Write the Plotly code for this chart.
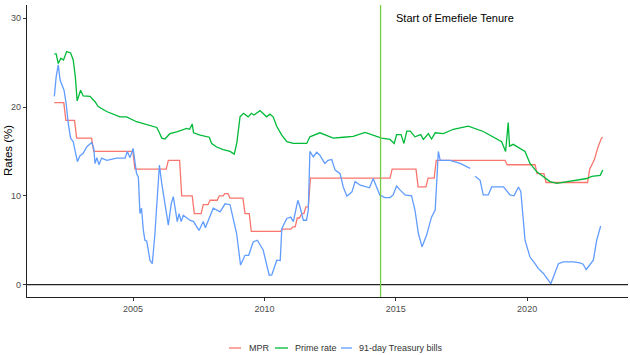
import plotly.graph_objects as go

# ---------------- data ----------------
mpr_t = [2002.0, 2002.36, 2002.44, 2002.77, 2002.85, 2003.42, 2003.5, 2004.99, 2005.07,
         2006.26, 2006.34, 2006.77, 2006.85, 2007.25, 2007.33, 2007.59, 2007.67, 2007.85,
         2007.93, 2008.2, 2008.28, 2008.42, 2008.5, 2008.61, 2008.69, 2009.18, 2009.26,
         2009.42, 2009.5, 2010.62, 2010.7, 2011.0, 2011.08, 2011.17, 2011.25, 2011.33,
         2011.42, 2011.5, 2011.58, 2011.67, 2011.75, 2014.78, 2014.86, 2015.77, 2015.85,
         2016.15, 2016.23, 2016.46, 2016.54, 2019.16, 2019.24, 2020.3, 2020.38, 2020.64,
         2020.72, 2022.3, 2022.38, 2022.55, 2022.7, 2022.83, 2022.88]
mpr_v = [20.5, 20.5, 18.5, 18.5, 16.5, 16.5, 15.0, 15.0, 13.0,
         13.0, 14.0, 14.0, 10.0, 10.0, 8.0, 8.0, 9.0, 9.0,
         9.5, 9.5, 10.0, 10.0, 10.25, 10.25, 9.75, 9.75, 8.0,
         8.0, 6.0, 6.0, 6.25, 6.25, 6.5, 6.5, 7.5, 7.5,
         8.0, 8.0, 8.75, 8.75, 12.0, 12.0, 13.0, 13.0, 11.0,
         11.0, 12.0, 12.0, 14.0, 14.0, 13.5, 13.5, 12.5, 12.5,
         11.5, 11.5, 13.0, 14.0, 15.5, 16.5, 16.6]

prime_t = [2002.0, 2002.07, 2002.15, 2002.25, 2002.35, 2002.47, 2002.62, 2002.72, 2002.8,
           2002.87, 2003.0, 2003.1, 2003.36, 2003.55, 2003.67, 2003.99, 2004.5, 2004.75,
           2005.13, 2005.51, 2005.9, 2006.0, 2006.09, 2006.21, 2006.4, 2006.66, 2007.04,
           2007.15, 2007.25, 2007.3, 2007.55, 2007.9, 2007.99, 2008.18, 2008.43, 2008.69,
           2008.85, 2008.95, 2009.07, 2009.2, 2009.38, 2009.5, 2009.6, 2009.83, 2009.95,
           2010.08, 2010.21, 2010.33, 2010.47, 2010.66, 2010.85, 2011.1, 2011.61, 2011.73,
           2012.11, 2012.3, 2012.62, 2013.0, 2013.38, 2013.83, 2014.14, 2014.46, 2014.78,
           2014.94, 2015.03, 2015.2, 2015.31, 2015.42, 2015.55, 2015.73, 2015.95, 2016.05,
           2016.24, 2016.36, 2016.5, 2016.81, 2017.19, 2017.76, 2018.33, 2018.71, 2019.03,
           2019.18, 2019.28, 2019.33, 2019.47, 2019.92, 2020.11, 2020.37, 2020.62, 2020.87,
           2021.13, 2021.51, 2021.89, 2022.27, 2022.46, 2022.78, 2022.88]
prime_v = [26.0, 26.0, 24.9, 25.5, 25.3, 26.25, 26.1, 25.3, 23.4,
           20.7, 21.9, 21.25, 21.2, 20.6, 20.05, 19.5, 18.9, 18.9,
           18.35, 18.0, 17.7, 17.1, 16.5, 16.4, 17.0, 17.2, 17.6,
           17.5, 18.1, 17.1, 16.85, 16.6, 15.9, 15.5, 15.2, 15.0,
           14.7, 16.0, 18.9, 19.3, 18.9, 19.3, 19.1, 19.6, 19.3,
           18.9, 19.2, 18.9, 17.8, 16.85, 16.1, 15.9, 15.9, 16.65,
           17.1, 16.9, 16.5, 16.6, 16.7, 17.15, 16.8, 16.5, 16.35,
           15.9, 16.9, 16.9, 15.9, 17.3, 17.3, 16.65, 16.9, 16.35,
           17.0, 16.4, 17.1, 17.0, 17.5, 17.85, 17.25, 16.65, 16.1,
           15.0, 18.25, 15.6, 15.8, 15.0, 13.65, 12.7, 12.15, 11.6,
           11.4, 11.6, 11.8, 11.95, 12.2, 12.3, 12.9]

tbill_t = [2002.0, 2002.07, 2002.15, 2002.22, 2002.37, 2002.45, 2002.53, 2002.62, 2002.72,
           2002.8, 2002.88, 2002.97, 2003.1, 2003.23, 2003.42, 2003.5, 2003.55, 2003.62,
           2003.7, 2003.8, 2004.0, 2004.37, 2004.69, 2004.78, 2004.88, 2005.0, 2005.13,
           2005.2, 2005.26, 2005.32, 2005.39, 2005.45, 2005.52, 2005.64, 2005.73, 2005.83,
           2005.92, 2006.0, 2006.09, 2006.21, 2006.34, 2006.45, 2006.53, 2006.68, 2006.75,
           2006.83, 2006.91, 2007.16, 2007.3, 2007.51, 2007.67, 2007.75, 2008.05, 2008.31,
           2008.5, 2008.69, 2008.81, 2008.94, 2009.09, 2009.26, 2009.4, 2009.57, 2009.73,
           2009.95, 2010.18, 2010.28, 2010.47, 2010.6, 2010.66, 2010.85, 2011.0, 2011.1,
           2011.27, 2011.35, 2011.48, 2011.6, 2011.67, 2011.73, 2011.86, 2011.99, 2012.1,
           2012.3, 2012.42, 2012.56, 2012.69, 2012.88, 2013.0, 2013.14, 2013.33, 2013.45,
           2013.65, 2013.9, 2014.0, 2014.14, 2014.25, 2014.39, 2014.58, 2014.78, 2014.9,
           2015.03, 2015.15, 2015.35, 2015.6, 2015.73, 2015.86, 2016.0, 2016.17, 2016.36,
           2016.5, 2016.62, 2016.69, 2017.07, 2017.45, 2017.83, 2017.92, 2018.02, 2018.21,
           2018.33, 2018.52, 2018.65, 2018.97, 2019.1, 2019.35, 2019.5, 2019.67, 2019.76,
           2019.92, 2020.11, 2020.3, 2020.43, 2020.62, 2020.81, 2020.9, 2021.0, 2021.19,
           2021.38, 2021.76, 2022.01, 2022.13, 2022.25, 2022.52, 2022.65, 2022.8]
tbill_v = [21.2, 23.4, 24.75, 23.05, 21.9, 20.4, 18.2, 16.5, 16.1,
           14.8, 13.85, 14.5, 14.8, 15.5, 16.0, 15.4, 13.65, 14.3,
           13.5, 14.25, 14.0, 14.25, 14.25, 15.0, 14.3, 15.35, 12.5,
           12.1, 8.0, 8.6, 6.1, 5.0, 4.9, 2.75, 2.35, 5.75,
           9.9, 13.45, 11.4, 9.1, 6.7, 9.1, 9.9, 7.1, 8.0,
           7.1, 7.8, 7.25, 7.1, 6.1, 7.1, 6.4, 8.6, 8.2,
           9.1, 9.0, 7.6, 5.75, 2.2, 3.3, 3.3, 4.8, 5.0,
           3.9, 1.05, 1.1, 2.75, 2.7, 6.3, 7.45, 7.6, 7.1,
           9.5, 8.8, 7.25, 7.25, 8.4, 15.0, 14.4, 14.9, 14.6,
           13.65, 14.0, 14.1, 12.9, 12.5, 11.0, 9.95, 10.45, 11.6,
           11.2, 10.95, 10.9, 11.95, 11.2, 10.1, 9.8, 9.8, 10.1,
           11.1, 10.7, 10.1, 10.0, 8.4, 5.75, 4.25, 5.55, 7.6,
           8.4, 15.0, 14.0, 14.0, 13.65, 13.1, None, 12.2, 11.75,
           10.1, 10.1, 11.0, 11.0, 11.0, 10.1, 10.0, 11.0, 10.5,
           5.0, 3.1, 2.35, 1.8, 1.25, 0.5, 0.1, 0.85, 2.35,
           2.55, 2.55, 2.45, 2.3, 1.7, 2.75, 5.0, 6.6]

series_names = ["MPR", "Prime rate", "91-day Treasury bills"]
x_ticks = [2005, 2010, 2015, 2020]
y_ticks = [0, 10, 20, 30]
tenure_start = 2014.42
annotation_text = "Start of Emefiele Tenure"
annotation_x = 2017.25
annotation_y = 30

colors = ["#F8766D", "#00BA38", "#619CFF"]

W, H = 630, 355
ML, MR, MT, MB = 27, 2, 5, 58
PW, PH = W - ML - MR, H - MT - MB


def px_x(p):
    return (p - ML) / PW


def px_y(p):
    return (H - MB - p) / PH


fig = go.Figure()
for name, t, v, c in zip(series_names, [mpr_t, prime_t, tbill_t],
                         [mpr_v, prime_v, tbill_v], colors):
    fig.add_trace(go.Scatter(x=t, y=v, mode="lines", name=name,
                             line=dict(color=c, width=1.3), connectgaps=False))

fig.add_shape(type="line", xref="paper", x0=0, x1=1, yref="y", y0=0, y1=0,
              line=dict(color="#222222", width=1.2), layer="below")
fig.add_shape(type="line", xref="x", x0=tenure_start, x1=tenure_start,
              yref="paper", y0=0, y1=1, line=dict(color="#77CC44", width=1.3))

fig.add_annotation(x=annotation_x, y=annotation_y, text=annotation_text,
                   showarrow=False, font=dict(size=11, color="black",
                                              family="Liberation Sans"))
fig.add_annotation(xref="paper", yref="paper", x=px_x(8), y=px_y(151),
                   text="Rates (%)", textangle=-90, showarrow=False,
                   xanchor="center", yanchor="middle",
                   font=dict(size=11.5, color="black", family="Liberation Sans"))

# legend (drawn in the bottom margin)
leg_y = 348
leg_items = [(229, 241, 247), (275, 288, 293), (341, 352, 357)]
for (x0, x1, xt), name, c in zip(leg_items, series_names, colors):
    fig.add_shape(type="line", xref="paper", yref="paper",
                  x0=px_x(x0), x1=px_x(x1), y0=px_y(leg_y), y1=px_y(leg_y),
                  line=dict(color=c, width=1.3))
    fig.add_annotation(xref="paper", yref="paper", x=px_x(xt), y=px_y(leg_y),
                       text=name, showarrow=False, xanchor="left",
                       yanchor="middle",
                       font=dict(size=9, color="#333333", family="Liberation Sans"))

fig.update_layout(
    width=W, height=H,
    margin=dict(l=ML, r=MR, t=MT, b=MB),
    paper_bgcolor="white", plot_bgcolor="white",
    font=dict(family="Liberation Sans", size=10, color="#4D4D4D"),
    showlegend=False,
    xaxis=dict(range=[2000.96, 2023.84], tickvals=x_ticks, automargin=False,
               showgrid=False, zeroline=False, showline=True,
               linecolor="#222222", linewidth=1.2, ticks="outside",
               ticklen=3, tickcolor="#333333", tickfont=dict(size=9, color="#4D4D4D")),
    yaxis=dict(range=[-1.4, 31.5], tickvals=y_ticks, automargin=False,
               showgrid=False, zeroline=False, showline=True,
               linecolor="#222222", linewidth=1.2, ticks="outside",
               ticklen=3, tickcolor="#333333", tickfont=dict(size=9, color="#4D4D4D")),
)

fig.write_html("out.html", config={"displayModeBar": False},
               post_script="document.body.style.margin='0';document.body.style.overflow='hidden';")
